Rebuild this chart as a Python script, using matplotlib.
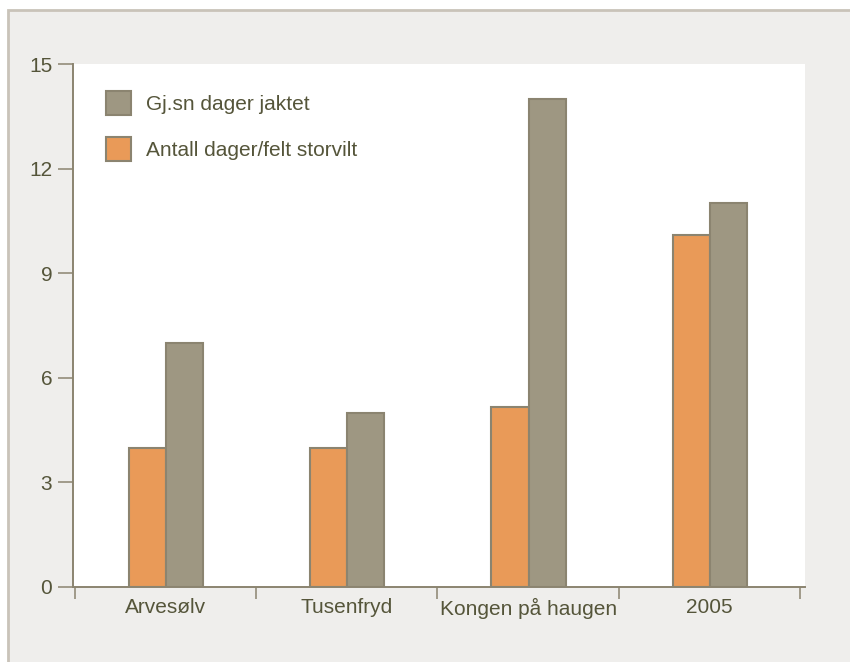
import numpy as np
import matplotlib.pyplot as plt
from matplotlib.patches import Rectangle

# data
categories = ["Arvesølv", "Tusenfryd", "Kongen på haugen", "2005"]
dager_felt = [4, 4, 5.15, 10.1]   # Antall dager/felt storvilt
dager_jakt = [7, 5, 14, 11]       # Gj.sn dager jaktet
yticks = [0, 3, 6, 9, 12, 15]

orange = "#e99a58"
grey = "#9e9782"
edge = "#8b8470"
txt = "#55553a"

plt.rcParams['font.family'] = ['Liberation Sans', 'DejaVu Sans']

fig = plt.figure(figsize=(8.5, 6.62), dpi=100, facecolor="white")
# light panel behind the chart
fig.patches.append(Rectangle((8 / 850, -0.1), 1.2, 1.1 - 10 / 662, transform=fig.transFigure,
                             facecolor="#efeeec", edgecolor="#c9c3b9", lw=2, zorder=-10))

ax = fig.add_axes([73 / 850, 75 / 662, 732 / 850, 523 / 662])
ax.set_facecolor("white")

x = np.arange(len(categories))
w = 0.205
ax.bar(x - 0.1, dager_felt, w, color=orange, edgecolor=edge, lw=1.5,
       label="Antall dager/felt storvilt")
ax.bar(x + 0.105, dager_jakt, w, color=grey, edgecolor=edge, lw=1.5,
       label="Gj.sn dager jaktet")

ax.set_ylim(0, 15)
ax.set_xlim(-0.511, 3.528)
ax.set_yticks(yticks)
ax.set_xticks(x)
ax.set_xticklabels(categories)
ax.set_xticks(np.arange(len(categories) + 1) - 0.5, minor=True)

for s in ["top", "right"]:
    ax.spines[s].set_visible(False)
for s in ["left", "bottom"]:
    ax.spines[s].set_color(edge)
    ax.spines[s].set_linewidth(1.4)

ax.tick_params(axis="y", length=11, width=1.1, color=edge, labelcolor=txt,
               labelsize=15, pad=4)
ax.tick_params(axis="x", which="major", length=0, labelcolor=txt, labelsize=15, pad=8)
ax.tick_params(axis="x", which="minor", length=8.6, width=1.1, color=edge)

h, l = ax.get_legend_handles_labels()
leg = ax.legend(h[::-1], l[::-1], loc="upper left", bbox_to_anchor=(0.02, 0.984),
                frameon=False, fontsize=15, handlelength=1.2, handleheight=1.35,
                handletextpad=0.7, labelspacing=1.1)
for t in leg.get_texts():
    t.set_color(txt)

fig.savefig("out.png", dpi=100, facecolor=fig.get_facecolor())
